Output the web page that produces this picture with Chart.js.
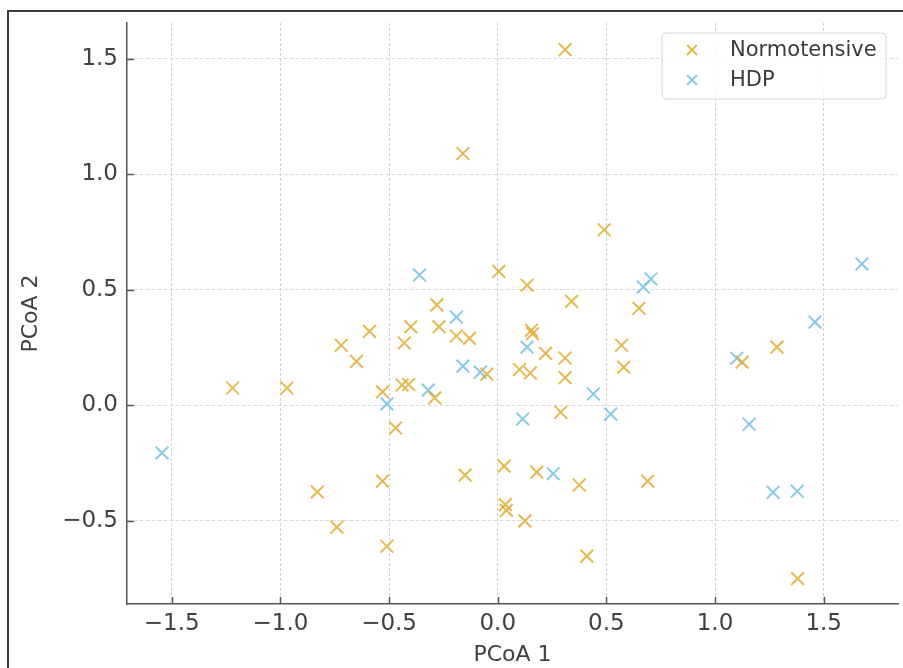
<!DOCTYPE html>
<html>
<head>
<meta charset="utf-8">
<script src="https://cdn.jsdelivr.net/npm/chart.js@4.4.1/dist/chart.umd.min.js"></script>
<style>
  html, body { margin: 0; padding: 0; background: #fff; }
  #wrap { position: relative; width: 903px; height: 668px; overflow: hidden; }
  #frame { position: absolute; left: 7px; top: 10px; width: 2000px; height: 2000px;
           border-left: 2px solid #3a3a3a; border-top: 2px solid #3a3a3a; pointer-events: none; }
  canvas { position: absolute; left: 0; top: 0; }
</style>
</head>
<body>
<div id="wrap">
  <canvas id="c" width="903" height="668"></canvas>
  <div id="frame"></div>
</div>
<script>
// ---- data ----
const seriesLabels = ["Normotensive", "HDP"];
const normX = [0.31,-0.16,0.49,0.005,0.135,0.34,-0.28,-0.40,-0.27,-0.59,-0.72,-0.43,-0.65,-0.19,-0.13,0.155,0.16,0.22,0.31,0.65,0.57,0.58,0.31,0.10,0.15,-0.05,-1.22,-0.97,-0.53,-0.44,-0.41,-0.29,-0.47,0.29,1.125,1.285,-0.83,-0.74,-0.53,-0.51,-0.15,0.03,0.18,0.375,0.69,0.035,0.04,0.125,0.41,1.38];
const normY = [1.54,1.09,0.76,0.58,0.52,0.45,0.435,0.34,0.34,0.32,0.26,0.27,0.19,0.30,0.29,0.325,0.31,0.225,0.205,0.42,0.26,0.165,0.12,0.155,0.14,0.135,0.075,0.075,0.058,0.088,0.09,0.032,-0.098,-0.03,0.187,0.252,-0.375,-0.527,-0.328,-0.61,-0.302,-0.263,-0.289,-0.345,-0.328,-0.43,-0.455,-0.50,-0.653,-0.75];
const hdpX = [-0.36,-0.19,-0.16,-0.08,0.135,0.67,0.705,-0.32,-0.51,0.115,0.44,0.52,0.255,-1.545,1.10,1.157,1.267,1.378,1.46,1.676];
const hdpY = [0.564,0.382,0.17,0.144,0.252,0.512,0.547,0.066,0.006,-0.059,0.049,-0.038,-0.296,-0.206,0.204,-0.082,-0.377,-0.372,0.36,0.612];
const xTitle = "PCoA 1";
const yTitle = "PCoA 2";

const normColor = "rgba(222,170,40,0.82)";
const hdpColor = "rgba(120,195,228,0.88)";

const toPts = (xs, ys) => xs.map((x, i) => ({ x: x, y: ys[i] }));

const tickFont = { family: "'DejaVu Sans', sans-serif", size: 23 };
const FONT_TXT = "#404040";

// inward tick marks
const inwardTicks = {
  id: 'inwardTicks',
  afterDatasetsDraw(chart) {
    const ctx = chart.ctx;
    const xs = chart.scales.x, ys = chart.scales.y;
    const ca = chart.chartArea;
    ctx.save();
    ctx.strokeStyle = "#555";
    ctx.lineWidth = 1.5;
    ctx.beginPath();
    xs.ticks.forEach(t => {
      const px = Math.round(xs.getPixelForValue(t.value)) + 0.5;
      ctx.moveTo(px, ca.bottom); ctx.lineTo(px, ca.bottom - 7);
    });
    ys.ticks.forEach(t => {
      const py = Math.round(ys.getPixelForValue(t.value)) + 0.5;
      ctx.moveTo(ca.left, py); ctx.lineTo(ca.left + 7, py);
    });
    ctx.stroke();
    ctx.restore();
  }
};

// legend box drawn inside the plot, top right
const innerLegend = {
  id: 'innerLegend',
  afterDraw(chart) {
    const ctx = chart.ctx;
    const bx = 662, by = 33, bw = 224, bh = 66, r = 4;
    ctx.save();
    ctx.fillStyle = "rgba(255,255,255,0.85)";
    ctx.strokeStyle = "#d6d6d6";
    ctx.lineWidth = 1;
    ctx.beginPath();
    ctx.moveTo(bx + r, by);
    ctx.arcTo(bx + bw, by, bx + bw, by + bh, r);
    ctx.arcTo(bx + bw, by + bh, bx, by + bh, r);
    ctx.arcTo(bx, by + bh, bx, by, r);
    ctx.arcTo(bx, by, bx + bw, by, r);
    ctx.closePath();
    ctx.fill();
    ctx.stroke();
    chart.data.datasets.forEach((ds, i) => {
      const cy = by + 17 + i * 30;
      const cx = 692, s = 5;
      ctx.strokeStyle = ds.borderColor;
      ctx.lineWidth = 2;
      ctx.beginPath();
      ctx.moveTo(cx - s, cy - s); ctx.lineTo(cx + s, cy + s);
      ctx.moveTo(cx - s, cy + s); ctx.lineTo(cx + s, cy - s);
      ctx.stroke();
      ctx.fillStyle = "#3a3a3a";
      ctx.font = "21px 'DejaVu Sans', sans-serif";
      ctx.textBaseline = "middle";
      ctx.textAlign = "left";
      ctx.fillText(ds.label, 730, cy + 1);
    });
    ctx.restore();
  }
};

new Chart(document.getElementById('c'), {
  type: 'scatter',
  data: {
    datasets: [
      { label: seriesLabels[0], data: toPts(normX, normY), pointStyle: 'crossRot',
        pointRadius: 9, pointHoverRadius: 9, borderColor: normColor, backgroundColor: normColor, pointBorderWidth: 2 },
      { label: seriesLabels[1], data: toPts(hdpX, hdpY), pointStyle: 'crossRot',
        pointRadius: 9, pointHoverRadius: 9, borderColor: hdpColor, backgroundColor: hdpColor, pointBorderWidth: 2 }
    ]
  },
  options: {
    responsive: false,
    animation: false,
    events: [],
    layout: { autoPadding: false, padding: { left: 18, right: 5, top: 23, bottom: 0 } },
    plugins: { legend: { display: false }, tooltip: { enabled: false } },
    scales: {
      x: {
        type: 'linear', min: -1.706, max: 1.842,
        afterFit: s => { s.height = 64; s.paddingLeft = 0; s.paddingRight = 0; },
        ticks: { stepSize: 0.5, includeBounds: false, font: tickFont, color: FONT_TXT, padding: 6,
                 callback: v => (v < 0 ? "\u2212" + Math.abs(v).toFixed(1) : v.toFixed(1)), maxRotation: 0 },
        grid: { color: "#d0d0d0", lineWidth: 1, drawTicks: false },
        border: { display: true, color: "#555", width: 1.5, dash: [3, 2] },
        title: { display: true, text: xTitle, font: { family: "'DejaVu Sans', sans-serif", size: 22 }, color: FONT_TXT, padding: 0 }
      },
      y: {
        type: 'linear', min: -0.860, max: 1.655,
        afterFit: s => { s.width = 109; s.paddingTop = 0; s.paddingBottom = 0; },
        ticks: { stepSize: 0.5, includeBounds: false, font: tickFont, color: FONT_TXT, padding: 9,
                 callback: v => (v < 0 ? "\u2212" + Math.abs(v).toFixed(1) : v.toFixed(1)) },
        grid: { color: "#dadada", lineWidth: 1, drawTicks: false },
        border: { display: true, color: "#555", width: 1.5, dash: [4, 2] },
        title: { display: true, text: yTitle, font: { family: "'DejaVu Sans', sans-serif", size: 22 }, color: FONT_TXT, padding: 0 }
      }
    }
  },
  plugins: [inwardTicks, innerLegend]
});
</script>
</body>
</html>
